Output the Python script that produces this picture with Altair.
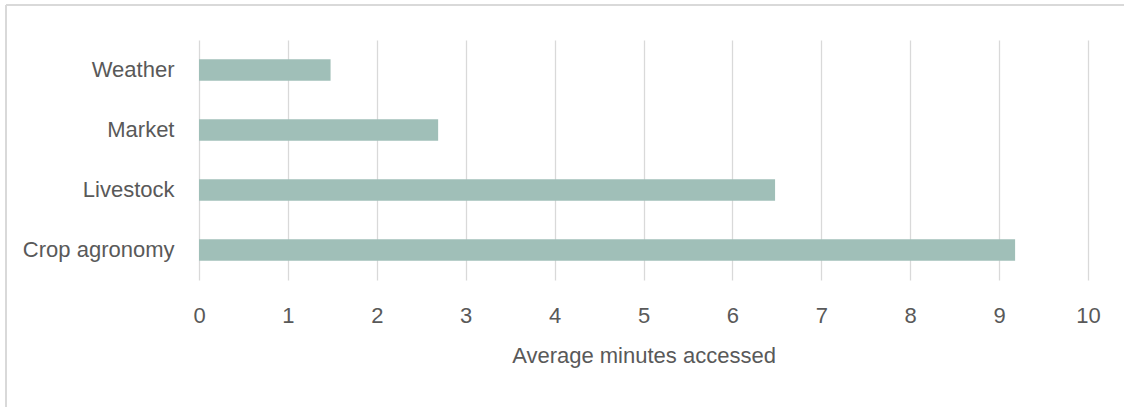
import altair as alt
import pandas as pd

categories = ["Weather", "Market", "Livestock", "Crop agronomy"]
values = [1.48, 2.69, 6.48, 9.18]

df = pd.DataFrame({"cat": categories, "val": values})

FONT = "Liberation Sans"
TXT = "#595959"

bars = alt.Chart(df).mark_bar(color="#a0bfb8").encode(
    x=alt.X("val:Q", scale=alt.Scale(domain=[0, 10], nice=False),
            axis=alt.Axis(values=list(range(0, 11)), title="Average minutes accessed",
                          grid=True, gridColor="#d9d9d9", gridWidth=1.3,
                          domain=False, ticks=False, labelPadding=25, labelFlush=False,
                          labelFont=FONT, labelFontSize=22, labelColor=TXT,
                          titleFont=FONT, titleFontSize=22, titleColor=TXT,
                          titleFontWeight="normal", titlePadding=19)),
    y=alt.Y("cat:N", sort=categories,
            scale=alt.Scale(paddingInner=0.645, paddingOuter=0.3225),
            axis=alt.Axis(title=None, domain=False, ticks=False, labelPadding=25,
                          labelFont=FONT, labelFontSize=22, labelColor=TXT)),
)

top_border = alt.Chart(df).mark_rule(color="#d9d9d9", strokeWidth=2).encode(
    x=alt.value(-193), x2=alt.value(940), y=alt.value(-35)
)
left_border = alt.Chart(df).mark_rule(color="#d9d9d9", strokeWidth=2).encode(
    x=alt.value(-193), y=alt.value(-35), y2=alt.value(400)
)

chart = alt.layer(top_border, left_border, bars).properties(
    width=889, height=240,
    background="white",
    autosize=alt.AutoSizeParams(type="none"),
    padding={"left": 199, "top": 40, "right": 36, "bottom": 127},
).configure_view(stroke="transparent", strokeWidth=0)

chart.save("out.html", embed_options={"renderer": "svg", "actions": False})
